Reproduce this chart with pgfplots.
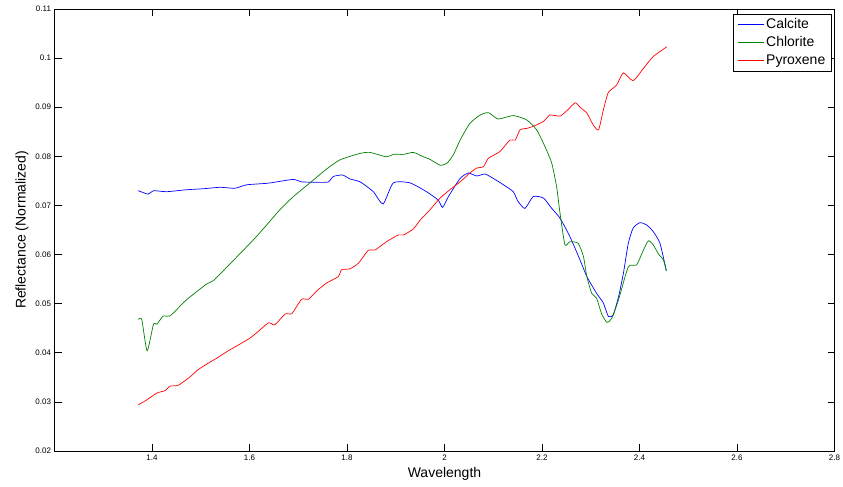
\documentclass[border=0pt]{standalone}
\usepackage{fontspec}
\setmainfont{Liberation Sans}
\usepackage{pgfplots}
\pgfplotsset{compat=1.18}
\definecolor{mblue}{rgb}{0,0,1}
\definecolor{mgreen}{rgb}{0,0.5,0}
\definecolor{mred}{rgb}{1,0,0}
\begin{document}
\begin{tikzpicture}
\begin{axis}[
  scale only axis, width=780pt, height=442pt,
  xmin=1.2, xmax=2.8, ymin=0.02, ymax=0.11,
  xtick={1.4,1.6,1.8,2,2.2,2.4,2.6,2.8},
  ytick={0.02,0.03,0.04,0.05,0.06,0.07,0.08,0.09,0.1,0.11},
  scaled y ticks=false, scaled x ticks=false,
  yticklabel style={/pgf/number format/fixed, /pgf/number format/precision=2},
  /pgf/number format/assume math mode=true,
  tick label style={font=\fontsize{8}{9}\selectfont},
  label style={font=\fontsize{14}{16}\selectfont},
  xlabel={Wavelength}, ylabel={Reflectance (Normalized)},
  major tick length=7pt, tick align=inside,
  axis line style={line width=0.8pt}, every tick/.style={black, line width=0.6pt},
  legend style={at={(1,1)}, anchor=north east, xshift=-3pt, yshift=-4.5pt,
    font=\fontsize{14}{16}\selectfont,
    inner xsep=4pt, inner ysep=3pt, row sep=2.5pt},
  legend cell align=left,
  legend image code/.code={\draw[#1] (0pt,0pt) -- (26pt,0pt);},
  every axis plot/.append style={line width=0.7pt, smooth, tension=0.35}
]
\addplot[draw=mblue] coordinates {
(1.372,0.0730) (1.392,0.0723) (1.403,0.0730) (1.430,0.0728) (1.471,0.0732)
(1.505,0.0734) (1.540,0.0737) (1.570,0.0735) (1.594,0.0742) (1.635,0.0745)
(1.656,0.0748) (1.690,0.0753) (1.707,0.0748) (1.745,0.0747) (1.762,0.0748)
(1.772,0.0759) (1.791,0.0762) (1.806,0.0754) (1.827,0.0748) (1.854,0.0728)
(1.874,0.0703) (1.895,0.0746) (1.929,0.0746) (1.963,0.0728) (1.987,0.0711)
(1.996,0.0696) (2.008,0.0718) (2.032,0.0755) (2.049,0.0766) (2.066,0.0760)
(2.083,0.0764) (2.100,0.0755) (2.121,0.0742) (2.141,0.0728) (2.151,0.0708)
(2.165,0.0694) (2.182,0.0718) (2.203,0.0715) (2.220,0.0694) (2.237,0.0674)
(2.257,0.0637) (2.278,0.0589) (2.292,0.0555) (2.312,0.0521) (2.326,0.0501)
(2.336,0.0474) (2.346,0.0477) (2.357,0.0514) (2.367,0.0562) (2.377,0.0623)
(2.387,0.0654) (2.401,0.0665) (2.415,0.0660) (2.428,0.0647) (2.442,0.0623)
(2.455,0.0567)};
\addlegendentry{Calcite}
\addplot[draw=mgreen] coordinates {
(1.372,0.0468) (1.379,0.0468) (1.390,0.0404) (1.403,0.0458) (1.410,0.0458)
(1.423,0.0475) (1.437,0.0475) (1.471,0.0508) (1.512,0.0540) (1.526,0.0547)
(1.560,0.0581) (1.608,0.0630) (1.635,0.0660) (1.663,0.0692) (1.690,0.0718)
(1.724,0.0746) (1.758,0.0774) (1.786,0.0793) (1.827,0.0806) (1.847,0.0808)
(1.881,0.0799) (1.895,0.0804) (1.916,0.0804) (1.936,0.0808) (1.957,0.0799)
(1.970,0.0794) (1.991,0.0782) (2.005,0.0786) (2.018,0.0803) (2.032,0.0833)
(2.052,0.0867) (2.073,0.0884) (2.090,0.0889) (2.110,0.0876) (2.141,0.0883)
(2.169,0.0874) (2.189,0.0854) (2.206,0.0820) (2.220,0.0786) (2.230,0.0738)
(2.237,0.0684) (2.247,0.0620) (2.257,0.0626) (2.274,0.0623) (2.285,0.0596)
(2.292,0.0555) (2.302,0.0521) (2.312,0.0511) (2.322,0.0480) (2.333,0.0462)
(2.343,0.0470) (2.357,0.0508) (2.377,0.0575) (2.394,0.0579) (2.408,0.0609)
(2.418,0.0628) (2.428,0.0620) (2.439,0.0601) (2.449,0.0589) (2.455,0.0567)};
\addlegendentry{Chlorite}
\addplot[draw=mred] coordinates {
(1.372,0.0294) (1.389,0.0304) (1.410,0.0318) (1.427,0.0323) (1.437,0.0332)
(1.454,0.0334) (1.478,0.0351) (1.495,0.0366) (1.519,0.0381) (1.533,0.0389)
(1.553,0.0402) (1.581,0.0418) (1.601,0.0430) (1.615,0.0441) (1.639,0.0461)
(1.652,0.0457) (1.673,0.0479) (1.687,0.0480) (1.707,0.0509) (1.721,0.0509)
(1.738,0.0526) (1.758,0.0542) (1.782,0.0555) (1.789,0.0569) (1.806,0.0571)
(1.823,0.0582) (1.844,0.0609) (1.857,0.0609) (1.881,0.0626) (1.905,0.0640)
(1.916,0.0640) (1.936,0.0652) (1.950,0.0670) (1.970,0.0691) (1.991,0.0715)
(2.011,0.0732) (2.032,0.0748) (2.052,0.0766) (2.066,0.0776) (2.080,0.0779)
(2.090,0.0796) (2.114,0.0810) (2.134,0.0833) (2.145,0.0833) (2.155,0.0854)
(2.169,0.0857) (2.182,0.0861) (2.203,0.0871) (2.216,0.0884) (2.237,0.0882)
(2.251,0.0893) (2.268,0.0909) (2.278,0.0900) (2.292,0.0888) (2.305,0.0864)
(2.316,0.0854) (2.326,0.0895) (2.336,0.0930) (2.353,0.0945) (2.367,0.0970)
(2.387,0.0954) (2.408,0.0979) (2.428,0.1003) (2.456,0.1023)};
\addlegendentry{Pyroxene}
\end{axis}
\pgfresetboundingbox
\path (-54.5pt,-36pt) rectangle (788.5pt,451pt);
\end{tikzpicture}
\end{document}
